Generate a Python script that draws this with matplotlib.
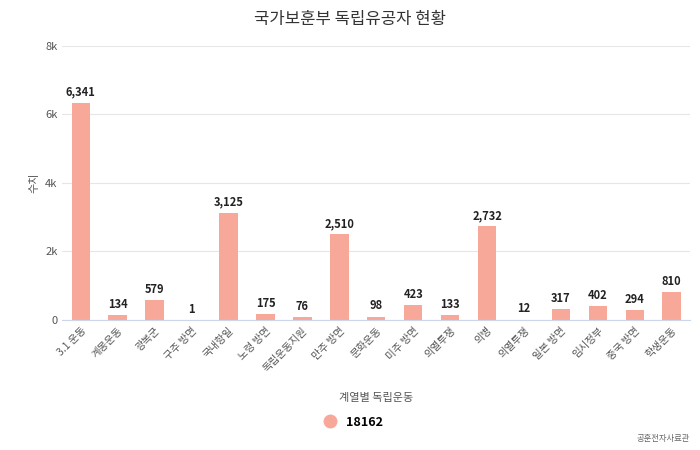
import matplotlib
matplotlib.use("Agg")
import matplotlib.pyplot as plt
from matplotlib.ticker import FuncFormatter

plt.rcParams["font.family"] = ["Noto Sans CJK JP", "Noto Sans CJK KR", "Noto Sans CJK SC", "DejaVu Sans"]

categories = ["3.1 운동", "계몽운동", "광복군", "구주 방면", "국내항일", "노령 방면", "독립운동지원",
              "만주 방면", "문화운동", "미주 방면", "의열투쟁", "의병", "의열투쟁", "일본 방면",
              "임시정부", "중국 방면", "학생운동"]
values = [6341, 134, 579, 1, 3125, 175, 76, 2510, 98, 423, 133, 2732, 12, 317, 402, 294, 810]
series_name = "18162"
color = "#f7a899"

fig = plt.figure(figsize=(7, 4.5), dpi=100)
ax = fig.add_axes([0.089, 0.289, 0.897, 0.609])
x = range(len(categories))
ax.bar(x, values, width=0.5, color=color, zorder=2)
for i, v in zip(x, values):
    ax.text(i, v + 120, f"{v:,}", ha="center", va="bottom", fontsize=8, fontweight="bold", color="#222222")
ax.set_xlim(-0.5, len(categories) - 0.5)
ax.set_ylim(0, 8000)
ax.set_yticks([0, 2000, 4000, 6000, 8000])
ax.yaxis.set_major_formatter(FuncFormatter(lambda v, p: "0" if v == 0 else f"{int(v/1000)}k"))
ax.set_xticks(list(x))
ax.set_xticklabels(categories, rotation=45, ha="right", rotation_mode="anchor", fontsize=7.5, color="#555555")
ax.tick_params(axis="y", labelsize=8, colors="#555555", length=0)
ax.tick_params(axis="x", length=0, pad=4)
ax.grid(axis="y", color="#e6e6e6", zorder=0)
for s in ["top", "right", "left"]:
    ax.spines[s].set_visible(False)
ax.spines["bottom"].set_color("#ccd6eb")
ax.set_ylabel("수치", fontsize=8, color="#555555")
ax.set_xlabel("계열별 독립운동", fontsize=8, color="#555555", labelpad=14)
fig.suptitle("국가보훈부 독립유공자 현황", y=0.975, fontsize=12, color="#333333")
fig.legend(handles=[plt.Line2D([], [], marker="o", ls="", color=color, markersize=9)],
           labels=[series_name], loc="center", bbox_to_anchor=(0.5, 0.062), frameon=False,
           prop={"weight": "bold", "size": 9}, handletextpad=0.3)
fig.text(0.985, 0.015, "공훈전자사료관", ha="right", va="bottom", fontsize=6, color="#666666")
fig.savefig("out.png")
